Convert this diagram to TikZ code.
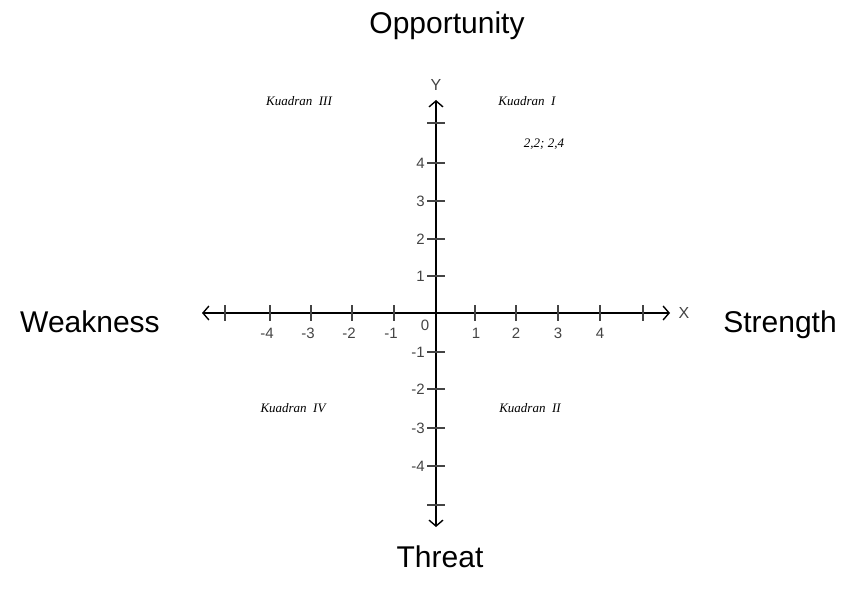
\documentclass[tikz,border=0pt]{standalone}
\usepackage{fontspec}
\setmainfont{Liberation Sans}
\newfontfamily\serifit{Liberation Serif}
\usetikzlibrary{arrows.meta}
\definecolor{tickgray}{HTML}{444444}
\begin{document}
\begin{tikzpicture}[x=1pt,y=-1pt,
  axisline/.style={line width=1.6pt,black,{Straight Barb[length=6pt,width=14pt,line width=1.4pt]}-{Straight Barb[length=6pt,width=14pt,line width=1.4pt]}},
  tickmark/.style={line width=1.5pt,tickgray},
  ticklab/.style={font=\fontsize{15}{17}\selectfont,text=tickgray,inner sep=0pt},
  biglab/.style={font=\fontsize{30}{34}\selectfont,inner sep=0pt,anchor=base},
  quadlab/.style={font=\serifit\itshape\fontsize{13}{15}\selectfont,inner sep=0pt}]
\useasboundingbox (0,0) rectangle (847,594);
% axes
\coordinate (o) at (436,313);
\coordinate (xl) at (202,313);
\coordinate (xr) at (670,313);
\coordinate (yt) at (436,100);
\coordinate (yb) at (436,527);
\draw[axisline] (xl) -- (xr);
\draw[axisline] (yb) -- (yt);
% x ticks
\foreach \x in {225,270,311,352,394,475,516,558,600,643}
  \draw[tickmark] (\x,305) -- (\x,321);
% y ticks
\foreach \y in {123,163,201,239,276,352,389,428,466,505}
  \draw[tickmark] (427,\y) -- (445,\y);
% x tick labels
\foreach \x/\t in {267/-4,308/-3,349/-2,391/-1,476/1,516/2,558/3,600/4}
  \node[ticklab] (xt\t) at (\x,333) {\t};
\node[ticklab] (zero) at (425,325) {0};
% y tick labels
\foreach \y/\t in {163/4,201/3,239/2,276/1}
  \node[ticklab,anchor=east] (yt\t) at (425,\y) {\t};
\foreach \y/\t in {352/-1,389/-2,428/-3,466/-4}
  \node[ticklab,anchor=east] (yt\t) at (425,\y) {\t};
% axis letters
\node[ticklab,font=\fontsize{16}{18}\selectfont] (xlab) at (684,313) {X};
\node[ticklab,font=\fontsize{16}{18}\selectfont] (ylab) at (436,85) {Y};
% big labels
\node[biglab] (opp) at (447,34) {Opportunity};
\node[biglab] (thr) at (440,567) {Threat};
\node[biglab] (weak) at (90,332) {Weakness};
\node[biglab] (str) at (780,332) {Strength};
% quadrant labels
\node[quadlab] (q3) at (299,101) {Kuadran\ \ III};
\node[quadlab] (q1) at (527,101) {Kuadran\ \ I};
\node[quadlab] (pt) at (544,144) {2,2;\ 2,4};
\node[quadlab] (q4) at (293,408) {Kuadran\ \ IV};
\node[quadlab] (q2) at (530,408) {Kuadran\ \ II};
\end{tikzpicture}
\end{document}
